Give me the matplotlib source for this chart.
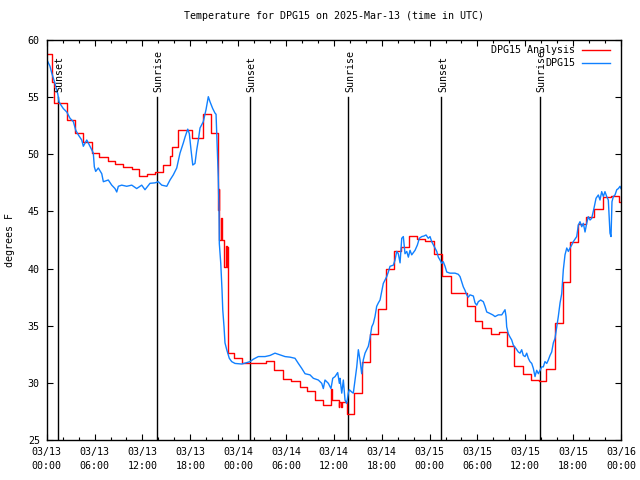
import matplotlib
matplotlib.use('Agg')
import matplotlib.pyplot as plt
from matplotlib.ticker import MultipleLocator

plt.rcParams['font.family'] = 'DejaVu Sans Mono'
plt.rcParams['font.size'] = 7.2

# observations, hours since 2025-03-13 00:00 UTC
obs_hours = [0.00, 0.41, 0.63, 1.04, 1.38, 1.54, 1.79, 2.08, 2.51, 2.92, 3.34, 3.64, 3.96, 4.39,
             4.59, 5.02, 5.43, 5.64, 5.84, 5.97, 6.14, 6.47, 6.90, 7.10, 7.72, 8.15, 8.56, 8.78,
             8.98, 9.40, 10.03, 10.66, 11.28, 11.91, 12.32, 12.95, 13.58, 13.99, 14.42, 15.05,
             15.46, 15.87, 16.30, 16.71, 17.13, 17.34, 17.68, 17.88, 18.09, 18.31, 18.59, 18.81,
             19.01, 19.22, 19.63, 19.97, 20.26, 20.47, 20.81, 21.10, 21.23, 21.39, 21.51, 21.60,
             21.64, 21.82, 21.98, 22.07, 22.23, 22.35, 22.57, 22.89, 23.19, 23.61, 24.45, 25.08,
             25.49, 25.90, 26.53, 27.37, 28.00, 28.62, 29.25, 29.88, 30.51, 31.13, 31.55, 31.97,
             32.39, 33.01, 33.43, 34.05, 34.48, 34.68, 34.89, 35.31, 35.64, 35.86, 36.15, 36.48,
             36.69, 36.77, 36.99, 37.19, 37.40, 37.61, 37.81, 37.94, 38.24, 38.44, 38.65, 38.87,
             39.07, 39.28, 39.49, 39.69, 39.91, 40.12, 40.32, 40.53, 40.75, 40.95, 41.16, 41.37,
             41.58, 41.79, 42.00, 42.20, 42.42, 42.63, 42.83, 43.04, 43.46, 43.67, 43.88, 44.08,
             44.30, 44.51, 44.71, 44.92, 45.14, 45.34, 45.55, 45.76, 46.18, 46.47, 46.72, 47.02,
             47.30, 47.56, 47.84, 48.06, 48.27, 48.60, 48.90, 49.10, 49.31, 49.52, 49.72, 49.94,
             50.15, 50.56, 51.19, 51.60, 51.82, 52.03, 52.23, 52.44, 52.66, 52.86, 53.07, 53.49,
             53.70, 53.91, 54.11, 54.41, 54.74, 54.95, 55.17, 55.49, 55.92, 56.21, 56.62, 57.05,
             57.46, 57.59, 57.67, 57.87, 58.09, 58.30, 58.50, 58.84, 59.13, 59.34, 59.55, 59.75,
             59.97, 60.18, 60.38, 60.59, 60.81, 61.01, 61.22, 61.43, 61.64, 61.85, 62.06, 62.26,
             62.47, 62.69, 62.89, 63.10, 63.31, 63.52, 63.73, 63.94, 64.14, 64.36, 64.57, 64.77,
             64.98, 65.20, 65.40, 65.61, 65.82, 66.02, 66.45, 66.65, 66.86, 67.08, 67.28, 67.49,
             67.70, 67.90, 68.12, 68.33, 68.62, 68.87, 69.16, 69.37, 69.58, 69.79, 69.99, 70.21,
             70.41, 70.62, 70.75, 70.87, 71.04, 71.25, 71.47, 71.67, 71.88, 72.00]
obs_temp = [58.3, 57.7, 57.1, 56.2, 55.3, 54.6, 54.3, 54.0, 53.7, 53.15, 52.85, 52.1, 51.7, 51.25,
            50.7, 51.25, 50.7, 50.4, 50.1, 48.9, 48.5, 48.8, 48.3, 47.6, 47.75, 47.3, 47.0, 46.7,
            47.2, 47.3, 47.2, 47.3, 47.0, 47.3, 46.9, 47.46, 47.5, 47.6, 47.3, 47.2,
            47.75, 48.2, 48.8, 50.1, 51.0, 51.5, 52.2, 51.8, 50.4, 49.06, 49.2, 50.4,
            51.25, 52.3, 52.85, 53.9, 55.04, 54.6, 54.0, 53.6, 53.5, 50.4, 48.0, 45.1,
            42.2, 40.46, 38.1, 36.4, 34.9, 33.5, 32.9, 32.15, 31.86, 31.7, 31.65, 31.77,
            31.86, 32.07, 32.3, 32.3, 32.4, 32.6, 32.45, 32.3, 32.25, 32.15, 31.7, 31.27,
            30.8, 30.7, 30.4, 30.25, 29.96, 29.5, 30.25, 29.96, 29.5, 30.4, 30.55, 30.9,
            29.96, 30.4, 29.1, 30.25, 28.5, 28.2, 29.1, 29.4, 29.2, 29.1, 30.25, 31.4,
            32.9, 32.0, 30.8, 32.0, 32.6, 32.9, 33.2, 33.9, 34.9, 35.2, 35.8, 36.7,
            37.0, 37.25, 38.0, 38.7, 39.0, 39.3, 39.7, 40.2, 40.3, 40.75, 41.5, 41.3,
            40.5, 42.65, 42.8, 41.3, 41.5, 41.0, 41.6, 41.2, 41.6, 42.06, 42.65, 42.8,
            42.85, 42.94, 42.65, 42.8, 42.35, 41.9, 41.5, 41.0, 40.75, 40.46, 40.6, 40.2,
            39.7, 39.6, 39.6, 39.5, 39.3, 38.85, 38.4, 38.1, 37.7, 37.5, 37.7, 37.6,
            37.0, 36.8, 37.1, 37.25, 37.1, 36.7, 36.2, 36.1, 35.95, 35.8, 35.95, 35.95,
            36.4, 35.8, 34.9, 34.3, 34.0, 33.75, 33.3, 33.0, 32.7, 32.6, 32.9, 32.4,
            32.3, 32.6, 32.15, 31.86, 31.7, 31.27, 30.55, 31.1, 30.8, 31.1, 31.4, 31.4,
            31.86, 31.7, 32.0, 32.4, 32.7, 33.5, 33.9, 34.9, 35.8, 37.0, 37.8, 39.9,
            41.2, 41.8, 41.5, 41.8, 42.06, 42.35, 42.8, 43.8, 44.1, 43.66, 43.96, 43.2,
            43.96, 44.54, 44.25, 44.4, 45.3, 46.15, 46.44, 46.0, 46.73, 46.3, 46.73, 46.3,
            46.0, 43.1, 42.8, 45.85, 46.3, 46.44, 46.9, 47.0, 47.2, 47.0]

# analysis (stepped), value holds from each start hour
ana_hours = [0.00, 0.63, 0.92, 2.58, 3.55, 4.51, 5.64, 6.60, 7.65, 8.56, 9.53, 10.66, 11.60,
             12.54, 13.58, 14.62, 15.46, 15.67, 16.50, 18.20, 19.63, 20.56, 21.44, 21.55, 21.62,
             21.85, 21.95, 22.20, 22.28, 22.50, 22.55, 22.65, 22.72, 23.52, 24.52, 27.55, 28.52,
             29.58, 30.63, 31.76, 32.60, 33.64, 34.69, 35.64, 35.75, 36.60, 36.70, 36.90, 37.00,
             37.61, 38.57, 39.54, 40.55, 41.58, 42.54, 43.50, 44.46, 45.46, 46.41, 47.37, 48.60,
             49.60, 50.69, 52.69, 53.64, 54.57, 55.70, 56.74, 57.70, 58.62, 59.71, 60.71, 61.67,
             62.64, 63.69, 64.69, 65.66, 66.62, 67.63, 68.67, 69.71, 70.76, 71.80]
ana_temp = [58.8, 56.35, 54.46, 53.0, 51.84, 51.05, 50.09, 49.8, 49.44, 49.15, 48.9, 48.7, 48.13,
            48.3, 48.47, 49.06, 49.85, 50.6, 52.1, 51.4, 53.5, 51.84, 45.1, 47.0, 42.5,
            44.4, 42.5, 42.1, 40.1, 42.0, 40.1, 41.9, 32.6, 32.15, 31.77, 31.9, 31.1,
            30.3, 30.17, 29.6, 29.3, 28.5, 28.07, 29.44, 28.5, 27.9, 28.35, 27.9, 28.35,
            27.28, 29.1, 31.86, 34.25, 36.5, 40.0, 41.5, 41.86, 42.85, 42.56, 42.44, 41.28,
            39.35, 37.84, 36.73, 35.4, 34.78, 34.28, 34.48, 33.23, 31.48, 30.78, 30.25, 30.17,
            31.2, 35.2, 38.8, 42.3, 43.9, 44.54, 45.2, 46.24, 46.38, 45.85]

sun_hours = [1.42, 13.85, 25.45, 37.82, 49.47, 61.80]
sun_labels = ['Sunset', 'Sunrise', 'Sunset', 'Sunrise', 'Sunset', 'Sunrise']

tick_hours = list(range(0, 73, 6))
tick_labels = ['03/13\n00:00', '03/13\n06:00', '03/13\n12:00', '03/13\n18:00',
               '03/14\n00:00', '03/14\n06:00', '03/14\n12:00', '03/14\n18:00',
               '03/15\n00:00', '03/15\n06:00', '03/15\n12:00', '03/15\n18:00',
               '03/16\n00:00']

fig = plt.figure(figsize=(6.4, 4.8), dpi=100)
ax = fig.add_axes([0.073, 0.0833, 0.8973, 0.8334])

red = '#ff0000'
blue = '#1080ff'

for h, lab in zip(sun_hours, sun_labels):
    ax.plot([h, h], [25, 55], color='black', lw=1.0)
    ax.text(h + 0.2, 55.45, lab, rotation=90, ha='center', va='bottom')

ax.step(ana_hours + [72], ana_temp + [ana_temp[-1]], where='post', color=red, lw=1.0)
ax.plot(obs_hours, obs_temp, color=blue, lw=1.0)

# legend drawn gnuplot style (text right-aligned, sample on the right)
for i, (lab, col) in enumerate([('DPG15 Analysis', red), ('DPG15', blue)]):
    yy = 0.975 - i * 0.0325
    ax.text(0.92, yy, lab, transform=ax.transAxes, ha='right', va='center')
    ax.plot([0.932, 0.981], [yy, yy], transform=ax.transAxes, color=col, lw=1.0)

ax.set_xlim(0, 72)
ax.set_ylim(25, 60)
ax.set_xticks(tick_hours)
ax.set_xticklabels(tick_labels, linespacing=1.5)
ax.xaxis.set_minor_locator(MultipleLocator(2))
ax.yaxis.set_major_locator(MultipleLocator(5))
ax.tick_params(which='both', direction='in', top=True, right=True)
ax.tick_params(which='major', length=4, width=0.8)
ax.tick_params(which='minor', length=2, width=0.8)
ax.tick_params(axis='x', pad=5)
ax.tick_params(axis='y', pad=5)
for s in ax.spines.values():
    s.set_linewidth(1.0)

ax.set_title('Temperature for DPG15 on 2025-Mar-13 (time in UTC)', fontsize=7.2, pad=15)
ax.set_ylabel('degrees F', labelpad=9)

fig.savefig('out.png', dpi=100)
